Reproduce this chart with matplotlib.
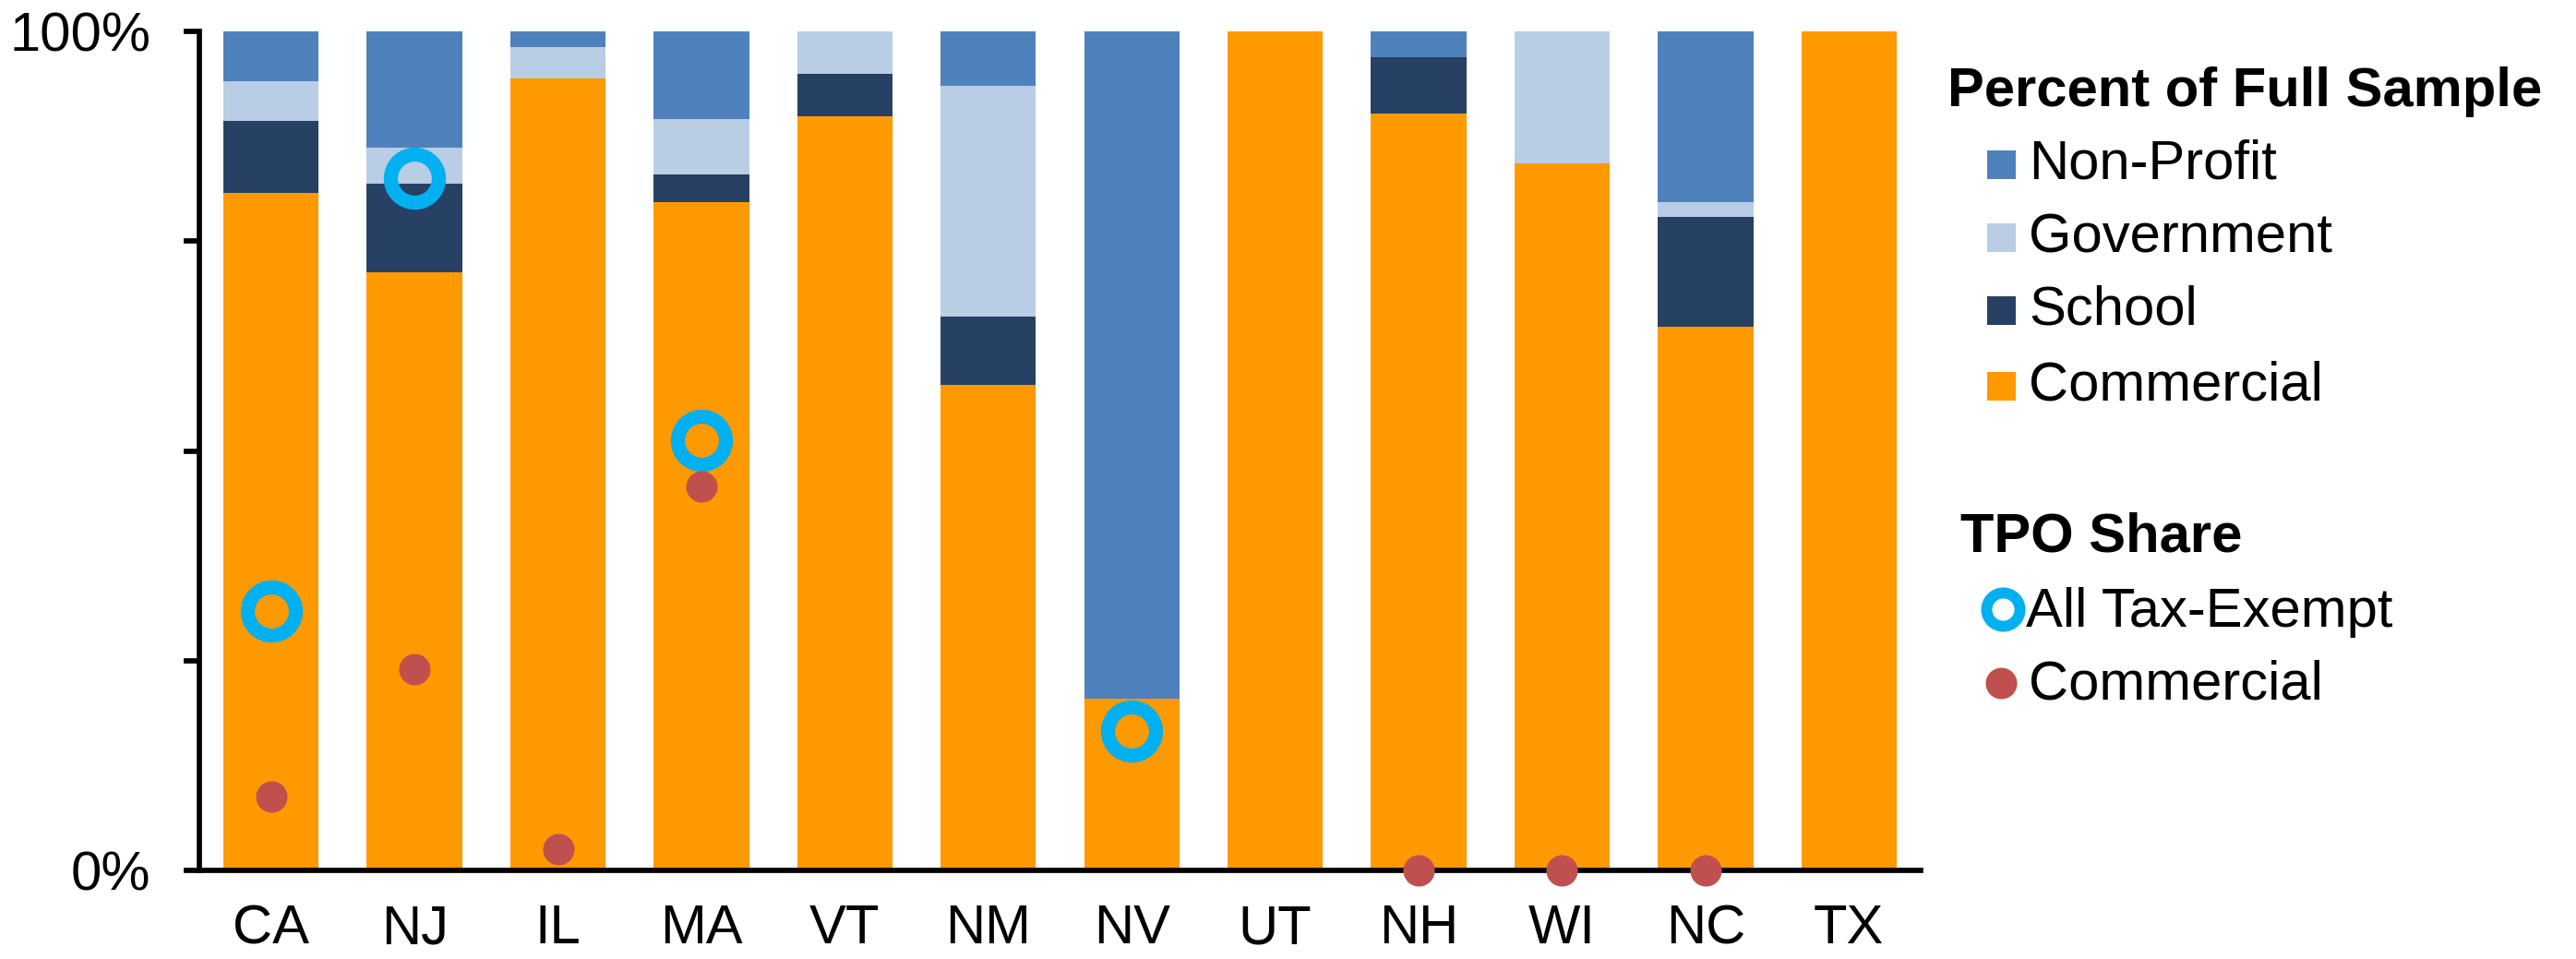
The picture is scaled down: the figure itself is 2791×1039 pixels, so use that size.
import numpy as np
import matplotlib
matplotlib.use("Agg")
import matplotlib.pyplot as plt
from matplotlib.patches import Rectangle
from matplotlib.lines import Line2D

plt.rcParams["font.family"] = ["Liberation Sans", "DejaVu Sans"]

# Share of full sample by customer type, percent
states = ["CA", "NJ", "IL", "MA", "VT", "NM", "NV", "UT", "NH", "WI", "NC", "TX"]
commercial = [80.7, 71.3, 94.4, 79.7, 89.9, 57.9, 20.5, 100.0, 90.2, 84.3, 64.8, 100.0]
school = [8.6, 10.6, 0.0, 3.2, 5.0, 8.1, 0.0, 0.0, 6.7, 0.0, 13.1, 0.0]
government = [4.8, 4.2, 3.7, 6.7, 5.1, 27.5, 0.0, 0.0, 0.0, 15.7, 1.8, 0.0]
nonprofit = [5.9, 13.9, 1.9, 10.4, 0.0, 6.5, 79.5, 0.0, 3.1, 0.0, 20.3, 0.0]

# TPO share, percent (nan = not reported)
nan = np.nan
tpo_tax_exempt = [30.9, 82.5, nan, 51.3, nan, nan, 16.6, nan, nan, nan, nan, nan]
tpo_commercial = [8.8, 24.0, 2.5, 45.8, nan, nan, nan, nan, 0.0, 0.0, 0.0, nan]

stack_names = ["Commercial", "School", "Government", "Non-Profit"]
stack_colors = ["#FF9900", "#264163", "#B9CDE5", "#4F81BD"]
ring_color = "#00B0F0"
dot_color = "#C0504D"

W, H = 2791, 1039
fig = plt.figure(figsize=(W / 100, H / 100), dpi=100)
ax = fig.add_axes([216 / W, 1 - 943 / H, (2081 - 216) / W, (943 - 34) / H])

x = np.arange(len(states))
bottom = np.zeros(len(states))
for vals, col in zip([commercial, school, government, nonprofit], stack_colors):
    v = np.array(vals) / 100
    ax.bar(x, v, width=0.665, bottom=bottom, color=col, linewidth=0, zorder=2)
    bottom += v

ax.plot(x, np.array(tpo_tax_exempt) / 100, linestyle="none", marker="o", ms=37.5,
        mfc="none", mec=ring_color, mew=11, zorder=5, clip_on=False)
ax.plot(x, np.array(tpo_commercial) / 100, linestyle="none", marker="o", ms=24.5,
        mfc=dot_color, mec="none", zorder=6, clip_on=False)

ax.set_xlim(-0.5, len(states) - 0.5)
ax.set_ylim(0, 1)
ax.set_xticks(x)
ax.set_xticklabels(states, fontsize=43)
ax.set_yticks([0, 0.25, 0.5, 0.75, 1.0])
ax.set_yticklabels(["0%", "", "", "", "100%"], fontsize=43)
ax.tick_params(axis="x", length=0, pad=26)
ax.tick_params(axis="y", length=12, width=4.1, pad=26, direction="out")
for side in ["top", "right"]:
    ax.spines[side].set_visible(False)
for side in ["left", "bottom"]:
    ax.spines[side].set_linewidth(4.1)
    ax.spines[side].set_zorder(4)


def fx(px):
    return px / W


def fy(py):
    return 1 - py / H


# legend: sample composition
fig.text(fx(2110), fy(115), "Percent of Full Sample", fontsize=43, fontweight="bold",
         va="baseline", ha="left")
rows = [(194, "Non-Profit", "#4F81BD"), (273, "Government", "#B9CDE5"),
        (352, "School", "#264163"), (434, "Commercial", "#FF9900")]
for base, name, col in rows:
    fig.add_artist(Rectangle((fx(2153), fy(base)), 31 / W, 31 / H,
                             transform=fig.transFigure, color=col, linewidth=0))
    fig.text(fx(2198), fy(base), name, fontsize=43, va="baseline", ha="left")

# legend: TPO share
fig.text(fx(2124), fy(597), "TPO Share", fontsize=43, fontweight="bold",
         va="baseline", ha="left")
fig.add_artist(Line2D([fx(2170)], [fy(660)], transform=fig.transFigure, marker="o",
                      ms=26, mfc="none", mec=ring_color, mew=8.6, linestyle="none"))
fig.text(fx(2195), fy(679), "All Tax-Exempt", fontsize=43, va="baseline", ha="left")
fig.add_artist(Line2D([fx(2168)], [fy(740)], transform=fig.transFigure, marker="o",
                      ms=24.5, mfc=dot_color, mec="none", linestyle="none"))
fig.text(fx(2198), fy(758), "Commercial", fontsize=43, va="baseline", ha="left")

fig.savefig("out.png", dpi=100)
